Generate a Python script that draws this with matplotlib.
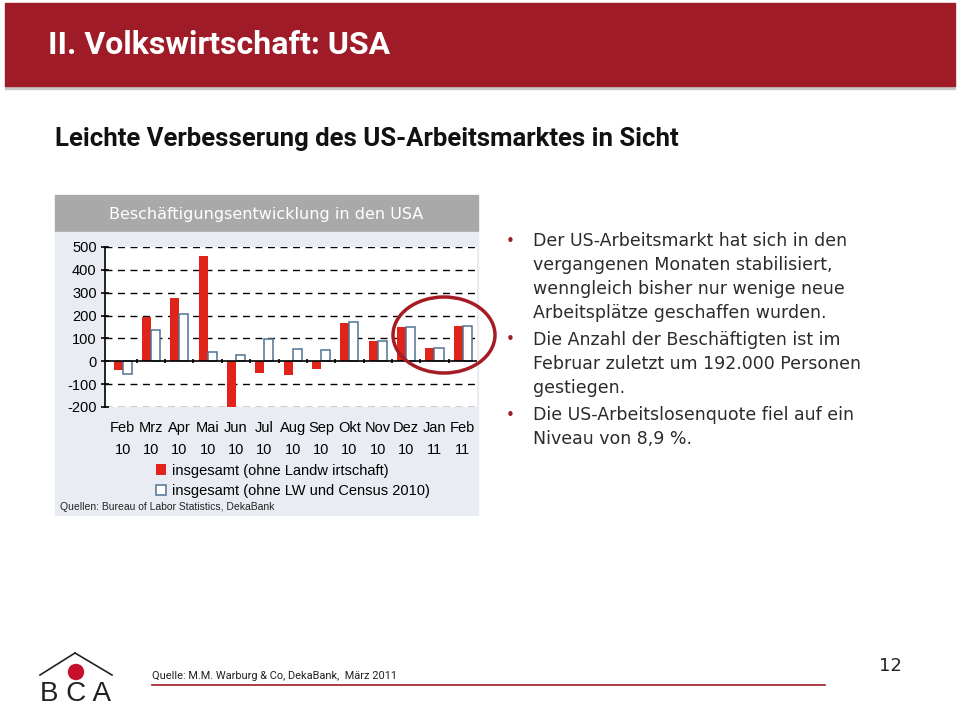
import numpy as np
import matplotlib
matplotlib.use("Agg")
import matplotlib.pyplot as plt
from matplotlib.patches import Rectangle, Ellipse, Circle

plt.rcParams["axes.unicode_minus"] = False

# data (thousands of jobs, month over month)
months = ["Feb\n10", "Mrz\n10", "Apr\n10", "Mai\n10", "Jun\n10", "Jul\n10", "Aug\n10",
          "Sep\n10", "Okt\n10", "Nov\n10", "Dez\n10", "Jan\n11", "Feb\n11"]
total = [-38, 192, 275, 459, -200, -52, -62, -35, 167, 88, 149, 58, 155]
ex_census = [-55, 139, 207, 42, 29, 96, 52, 48, 172, 90, 149, 58, 155]
yticks = [-200, -100, 0, 100, 200, 300, 400, 500]
legend_labels = ["insgesamt (ohne Landw irtschaft)", "insgesamt (ohne LW und Census 2010)"]

bullets = [
    "Der US-Arbeitsmarkt hat sich in den\nvergangenen Monaten stabilisiert,\nwenngleich bisher nur wenige neue\nArbeitsplätze geschaffen wurden.",
    "Die Anzahl der Beschäftigten ist im\nFebruar zuletzt um 192.000 Personen\ngestiegen.",
    "Die US-Arbeitslosenquote fiel auf ein\nNiveau von 8,9 %.",
]

W, H = 959, 708
DARKRED = "#9e1b27"
narrow = ["Roboto", "DejaVu Sans"]

fig = plt.figure(figsize=(W / 100, H / 100), dpi=100)
fig.patch.set_facecolor("white")

# background layer in pixel coords
bg = fig.add_axes([0, 0, 1, 1])
bg.set_xlim(0, W)
bg.set_ylim(H, 0)
bg.axis("off")

bg.add_patch(Rectangle((5, 85), 950, 4, color="#c8c8c8", zorder=1))
bg.add_patch(Rectangle((5, 3), 950, 83, color=DARKRED, zorder=2))
bg.text(48, 45, "II. Volkswirtschaft: USA", color="white", fontsize=23, fontweight="bold",
        family=narrow, va="center", ha="left")
bg.text(55, 139, "Leichte Verbesserung des US-Arbeitsmarktes in Sicht", color="#111111",
        fontsize=18.5, fontweight="bold", family=narrow, va="center", ha="left")

# chart panel
bg.add_patch(Rectangle((55, 195), 423, 37, color="#a9a9a9", zorder=1))
bg.add_patch(Rectangle((55, 232), 423, 283, color="#e9edf3", zorder=1))
bg.text(266, 214, "Beschäftigungsentwicklung in den USA", color="white", fontsize=11.5,
        ha="center", va="center")
bg.text(60, 507, "Quellen: Bureau of Labor Statistics, DekaBank", fontsize=7.5,
        family="Liberation Sans", color="#222222", va="center")

# bullets on the right
y = 241
for b in bullets:
    bg.text(510, y, "•", color=DARKRED, fontsize=11, va="center", ha="center")
    for ln in b.split("\n"):
        bg.text(533, y, ln, color="#2b2b2b", fontsize=12.5, va="center", ha="left")
        y += 24
    y += 3

# footer
bg.plot([75, 40], [653, 675], color="#222222", lw=1.2)
bg.plot([75, 112], [653, 675], color="#222222", lw=1.2)
bg.add_patch(Circle((76, 672), 7.5, color="#c8102e", zorder=3))
bg.text(76, 701, "B C A", fontsize=20, ha="center", va="baseline", color="#222222",
        family="Liberation Sans")
bg.text(152, 676, "Quelle: M.M. Warburg & Co, DekaBank,  März 2011", fontsize=7.9,
        family=narrow, va="center", color="#222222")
bg.plot([152, 825], [685, 685], color=DARKRED, lw=1.2)
bg.text(890, 666, "12", fontsize=13, ha="center", va="center", color="#222222")

# the bar chart
ax = fig.add_axes([105 / W, (H - 407) / H, 372 / W, 160 / H])
ax.set_facecolor("white")
x = np.arange(len(months))
bw = 0.32
ax.bar(x - bw / 2, total, bw, color="#e2231a", zorder=3, label=legend_labels[0])
ax.bar(x + bw / 2, ex_census, bw, color="white", edgecolor="#4f7393", lw=1.1, zorder=3,
       label=legend_labels[1])
ax.set_xlim(-0.62, len(months) - 0.5)
ax.set_ylim(-200, 500)
ax.set_yticks(yticks)
for t in yticks:
    if t != 0:
        ax.axhline(t, color="black", lw=1, ls=(0, (5, 4)), zorder=1)
ax.axhline(0, color="black", lw=1.2, zorder=4)
ax.vlines(x[1:] - 0.5, -9, 9, color="black", lw=1.2, zorder=4)
for s in ["top", "right", "bottom"]:
    ax.spines[s].set_visible(False)
ax.spines["left"].set_linewidth(1.2)
ax.tick_params(axis="y", direction="inout", length=6, width=1.2, labelsize=10.5, pad=3)
ax.tick_params(axis="x", length=0, labelsize=10.5, pad=10)
ax.set_xticks(x)
ax.set_xticklabels(months, linespacing=1.7)
for lab in ax.get_xticklabels() + ax.get_yticklabels():
    lab.set_family("Liberation Sans")

ax.legend(loc="upper left", bbox_to_anchor=(0.11, -0.29), frameon=False,
          prop={"family": "Liberation Sans", "size": 10.5}, handlelength=0.7,
          handleheight=0.7, handletextpad=0.4, labelspacing=0.45, borderpad=0.2)

# red highlight ellipse on top of everything
top = fig.add_axes([0, 0, 1, 1], facecolor="none")
top.set_xlim(0, W)
top.set_ylim(H, 0)
top.axis("off")
top.add_patch(Ellipse((444, 335), 102, 76, fill=False, edgecolor="#a51c24", lw=2.5))

fig.savefig("out.png", dpi=100)
